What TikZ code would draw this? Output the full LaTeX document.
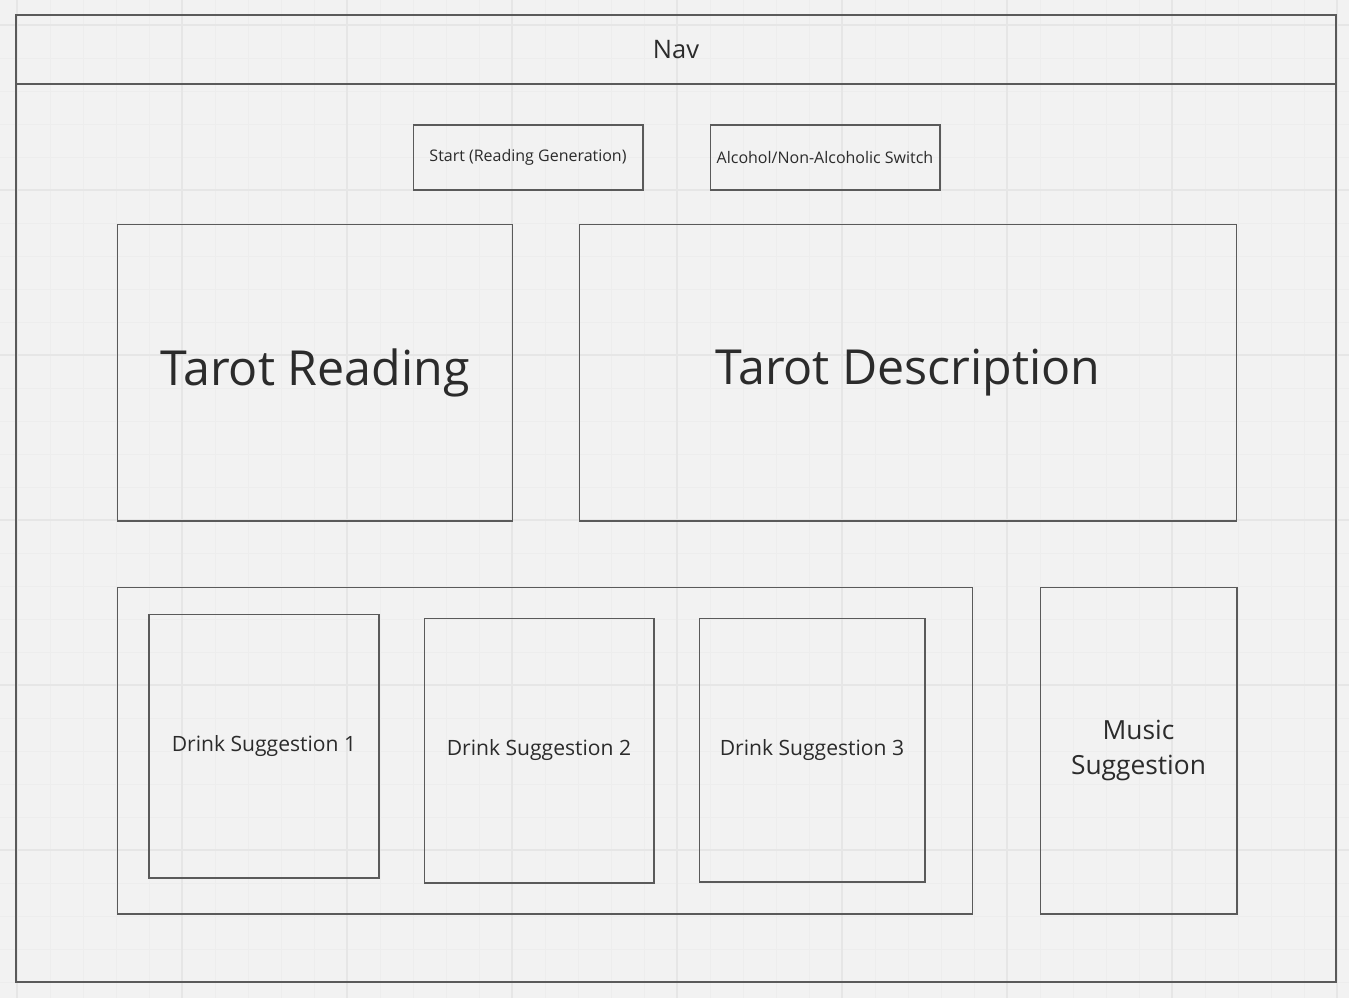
\documentclass[tikz,border=0pt]{standalone}
\usepackage{fontspec}
\setmainfont{Open Sans}
\usepackage{xcolor}
\usetikzlibrary{positioning}
\definecolor{paper}{HTML}{F2F2F2}
\definecolor{gminor}{HTML}{EDEDED}
\definecolor{gmajor}{HTML}{E6E6E6}
\definecolor{edge}{HTML}{5A5A5A}
\definecolor{ink}{HTML}{2B2B2B}
\tikzset{%
	wire/.style={line width=0.6,color=edge},
	frm/.style={rectangle,draw=edge,line width=0.9,inner sep=0},
	box/.style={rectangle,draw=edge,line width=0.6,inner sep=0,text=ink,align=center},
	btn/.style={box,minimum width=4.6cm,minimum height=1.3cm,font=\fontsize{9.1}{11}\selectfont},
	big/.style={box,minimum height=5.94cm,font=\fontsize{27.5}{33}\selectfont},
	drink/.style={box,font=\fontsize{12}{14.5}\selectfont},
	gline/.style={line width=0.5,color=gminor},
	gline2/.style={line width=0.75,color=gmajor},
}

\begin{document}
\begin{tikzpicture}[x=0.02cm,y=-0.02cm]
	\fill[paper] (0,0) rectangle (1349,998);
	\useasboundingbox (0,0) rectangle (1349,998);
	% grid
	\foreach \gx in {17,50,...,1349} \draw[gline] (\gx,0) -- (\gx,998);
	\foreach \gy in {25,58,...,998} \draw[gline] (0,\gy) -- (1349,\gy);
	\foreach \gx in {17,182,...,1349} \draw[gline2] (\gx,0) -- (\gx,998);
	\foreach \gy in {25,190,...,998} \draw[gline2] (0,\gy) -- (1349,\gy);
	
	\node (page) at (676,498.5) [frm,minimum width=26.4cm,minimum height=19.34cm] {};
	\node (nav) at (676,49.5) [frm,minimum width=26.4cm,minimum height=1.38cm,text=ink,font=\fontsize{14.5}{17}\selectfont] {Nav};
	
	\node (start) at (528,157.5) [btn] {Start (Reading Generation)};
	\node (switch) at (825,157.5) [btn] {Alcohol/Non-Alcoholic Switch};
	
	\node (reading) at (315,372.5) [big,minimum width=7.92cm] {Tarot Reading};
	\node (desc) at (908,372.5) [big,minimum width=13.16cm] {Tarot Description};
	
	\node (drinks) at (545,750.5) [box,minimum width=17.12cm,minimum height=6.54cm] {};
	\node (ds1) at (264,746) [drink,minimum width=4.6cm,minimum height=5.28cm] {Drink Suggestion 1};
	\node (ds2) at (539,750.5) [drink,minimum width=4.6cm,minimum height=5.3cm] {Drink Suggestion 2};
	\node (ds3) at (812,750) [drink,minimum width=4.52cm,minimum height=5.28cm] {Drink Suggestion 3};
	\node (music) at (1138.5,750.5) [box,minimum width=3.94cm,minimum height=6.54cm,font=\fontsize{15}{20.4}\selectfont] {Music\\Suggestion};
\end{tikzpicture}
\end{document}
